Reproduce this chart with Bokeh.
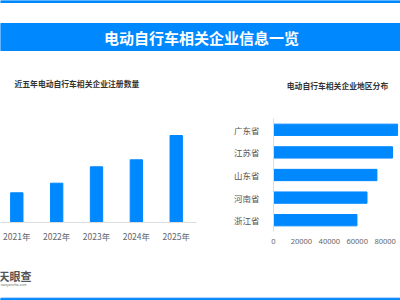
from bokeh.plotting import figure
from bokeh.layouts import column, row
from bokeh.models import Range1d, FactorRange, FixedTicker
from bokeh.core.properties import value
from bokeh.embed import file_html
from bokeh.resources import INLINE

# ---- data ----
main_title = "电动自行车相关企业信息一览"
left_title = "近五年电动自行车相关企业注册数量"
right_title = "电动自行车相关企业地区分布"
years = ["2021年", "2022年", "2023年", "2024年", "2025年"]
year_counts = [2970, 3930, 5570, 6270, 8700]
provinces = ["广东省", "江苏省", "山东省", "河南省", "浙江省"]
province_counts = [88900, 85300, 74100, 67000, 59800]
x_ticks = [0, 20000, 40000, 60000, 80000]
logo_text = "天眼查"
logo_sub = "tianyancha.com"

BLUE = "#0088ff"
FONT = value("Noto Sans CJK SC")


def blank(width, height, ymax):
    p = figure(width=width, height=height, x_range=Range1d(0, width),
               y_range=Range1d(ymax, 0), output_backend="svg",
               toolbar_location=None, x_axis_location=None, y_axis_location=None,
               min_border=0)
    p.outline_line_color = None
    p.grid.visible = False
    return p


# ---- header ----
head = blank(400, 100, 100)
head.quad(left=0, right=400, top=0, bottom=2, color=BLUE)
head.quad(left=0, right=400, top=23, bottom=50, color=BLUE)
head.text(x=[201], y=[37], text=[main_title], text_align="center",
          text_baseline="middle", text_font=FONT, text_font_style="bold",
          text_font_size="15px", text_color="white")
head.text(x=[14], y=[83], text=[left_title], text_align="left",
          text_baseline="middle", text_font=FONT, text_font_style="bold",
          text_font_size="7.8px", text_color="#333333")
head.text(x=[337], y=[85], text=[right_title], text_align="center",
          text_baseline="middle", text_font=FONT, text_font_style="bold",
          text_font_size="7.8px", text_color="#333333")

# ---- left chart ----
idx = list(range(len(years)))
left = figure(width=200, height=155, x_range=Range1d(-0.409, 4.509),
              y_range=Range1d(0, 12200), output_backend="svg",
              toolbar_location=None, y_axis_location=None,
              min_border_left=0, min_border_right=4, min_border_top=0,
              min_border_bottom=33)
left.vbar(x=idx, top=year_counts, width=0.31, color=BLUE)
left.outline_line_color = None
left.grid.visible = False
ax = left.xaxis[0]
ax.ticker = FixedTicker(ticks=idx)
ax.major_label_overrides = {i: y for i, y in zip(idx, years)}
ax.major_tick_line_color = None
ax.minor_tick_line_color = None
ax.axis_line_color = "#dddddd"
ax.major_label_text_font = "Noto Sans CJK SC"
ax.major_label_text_font_size = "8.5px"
ax.major_label_text_color = "#666666"
ax.major_label_standoff = 1

# ---- right chart ----
right = figure(width=200, height=155, y_range=FactorRange(*provinces[::-1]),
               x_range=Range1d(0, 91000), output_backend="svg",
               toolbar_location=None, min_border_left=73, min_border_right=0,
               min_border_top=18, min_border_bottom=24)
right.hbar(y=provinces, right=province_counts, height=0.5, color=BLUE)
right.outline_line_color = None
right.grid.visible = False
ya = right.yaxis[0]
ya.major_tick_line_color = None
ya.minor_tick_line_color = None
ya.axis_line_color = "#dddddd"
ya.major_label_text_font = "Noto Sans CJK SC"
ya.major_label_text_font_size = "8.5px"
ya.major_label_text_color = "#555555"
ya.major_label_standoff = 8
xa = right.xaxis[0]
xa.ticker = FixedTicker(ticks=x_ticks)
xa.major_tick_line_color = None
xa.minor_tick_line_color = None
xa.axis_line_color = None
xa.major_label_text_font = "Noto Sans"
xa.major_label_text_font_size = "7.5px"
xa.major_label_text_color = "#666666"
xa.major_label_standoff = 1

# ---- footer ----
foot = blank(400, 45, 45)
foot.text(x=[-2], y=[20], text=[logo_text], text_align="left",
          text_baseline="middle", text_font=FONT, text_font_style="bold",
          text_font_size="11px", text_color="#555555")
foot.text(x=[0], y=[28.5], text=[logo_sub], text_align="left",
          text_baseline="middle", text_font=value("Noto Sans"),
          text_font_size="3.5px", text_color="#666666")
foot.quad(left=0, right=400, top=42.7, bottom=45, color=BLUE)

layout = column(head, row(column(left), column(right)), foot)
open("out.html", "w").write(file_html(layout, INLINE))
